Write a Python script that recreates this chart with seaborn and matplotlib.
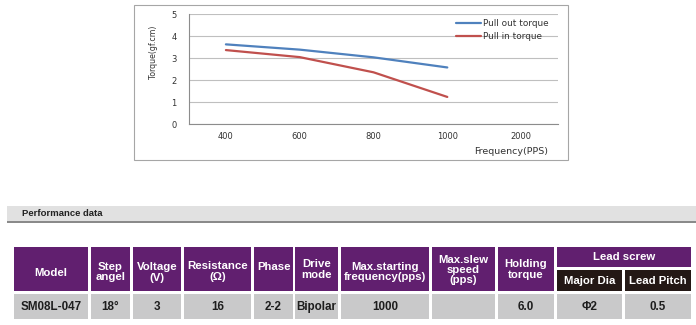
import matplotlib
matplotlib.use("Agg")
import matplotlib.pyplot as plt
from matplotlib.patches import Rectangle
import seaborn as sns
import pandas as pd

# ---------------- data ----------------
freq_labels = ["400", "600", "800", "1000", "2000"]
pull_out = [3.62, 3.38, 3.03, 2.57]
pull_in = [3.36, 3.04, 2.35, 1.23]
series_names = ["Pull out torque", "Pull in torque"]
y_ticks = [0, 1, 2, 3, 4, 5]

header_labels = ["Model", "Step\nangel", "Voltage\n(V)", "Resistance\n(Ω)", "Phase",
                 "Drive\nmode", "Max.starting\nfrequency(pps)", "Max.slew\nspeed\n(pps)",
                 "Holding\ntorque"]
group_label = "Lead screw"
sub_labels = ["Major Dia", "Lead Pitch"]
row_values = ["SM08L-047", "18°", "3", "16", "2-2", "Bipolar", "1000", "", "6.0", "Φ2", "0.5"]
section_title = "Performance data"

# ---------------- style ----------------
sns.set_style("white")
plt.rcParams["font.family"] = ["DejaVu Sans"]

W, H = 696, 325
fig = plt.figure(figsize=(W / 100, H / 100), dpi=100)
fig.patch.set_facecolor("white")

# background canvas axes in pixel coordinates (for table / frames)
bg = fig.add_axes([0, 0, 1, 1], zorder=0)
bg.set_xlim(0, W)
bg.set_ylim(H, 0)
bg.axis("off")

# chart frame
bg.add_patch(Rectangle((134, 5), 434, 155, fill=False, edgecolor="#A6A6A6", lw=0.8))

# ---------------- chart ----------------
ax = fig.add_axes([189 / W, 1 - 124 / H, (558 - 189) / W, 110 / H], zorder=2)
ax.patch.set_alpha(0)

rows = []
for name, vals in zip(series_names, [pull_out, pull_in]):
    for i, v in enumerate(vals):
        rows.append({"pos": i, "freq": freq_labels[i], "torque": v, "series": name})
df = pd.DataFrame(rows)

palette = {"Pull out torque": "#4F81BD", "Pull in torque": "#C0504D"}
sns.lineplot(data=df, x="pos", y="torque", hue="series", palette=palette,
             linewidth=1.6, ax=ax, legend=True, sort=False)

handles, labels = ax.get_legend_handles_labels()
if ax.get_legend() is not None:
    ax.get_legend().remove()

ax.set_xlim(-0.5, len(freq_labels) - 0.5)
ax.set_ylim(0, 5)
ax.set_xticks(range(len(freq_labels)))
ax.set_xticklabels(freq_labels)
ax.set_xticks([i - 0.5 for i in range(len(freq_labels) + 1)], minor=True)
ax.set_yticks(y_ticks)
ax.tick_params(axis="x", which="major", length=0, pad=6, labelsize=6, labelcolor="#333333")
ax.tick_params(axis="x", which="minor", length=3, width=0.6, color="#888888", direction="out")
ax.tick_params(axis="y", which="major", length=3, width=0.6, color="#888888", direction="out",
               pad=6, labelsize=6, labelcolor="#333333")
ax.yaxis.grid(True, color="#BFBFBF", lw=0.8)
ax.xaxis.grid(False)
for s in ["top", "right"]:
    ax.spines[s].set_visible(False)
for s in ["left", "bottom"]:
    ax.spines[s].set_color("#8C8C8C")
    ax.spines[s].set_linewidth(0.8)
ax.set_xlabel("")
ax.set_ylabel("")

fig.text(154 / W, 1 - 52 / H, "Torque(gf.cm)", rotation=90, ha="center", va="center",
         fontsize=5.6, color="#333333")
fig.text(511 / W, 1 - 152 / H, "Frequency(PPS)", ha="center", va="center",
         fontsize=6.8, color="#333333")

fig.legend(handles, labels, loc="upper left", bbox_to_anchor=(456 / W, 1 - 19 / H),
           frameon=False, fontsize=6.4, handlelength=2.8, handletextpad=0.25,
           labelspacing=0.45, borderpad=0, borderaxespad=0, labelcolor="#333333")

# ---------------- performance band ----------------
bg.add_patch(Rectangle((7, 206), W - 7, 15, color="#E1E1E1", lw=0))
bg.add_patch(Rectangle((7, 221), W - 7, 2, color="#8A8A8A", lw=0))
bg.text(22, 214, section_title, ha="left", va="center", fontsize=6.8, fontweight="bold",
        family="Liberation Sans", color="#222222")

# ---------------- table ----------------
purple = "#611F6F"
dark = "#231815"
grey = "#C9C9CA"
col_edges = [(14, 88), (91, 130), (133, 181), (184, 251), (254, 293), (295, 338),
             (341, 429), (432, 495), (498, 554), (557, 622), (625, 691)]
head_top, head_bot = 247, 291
sub_top = 270
row_top, row_bot = 294, 319
head_y = [273, 272, 272.5, 271.5, 267, 269.5, 272, 270, 269.5]

tkw = dict(family="Liberation Sans", fontweight="bold", ha="center", va="center",
           linespacing=1.05)

for (x0, x1), lab, yc in zip(col_edges[:len(header_labels)], header_labels, head_y):
    bg.add_patch(Rectangle((x0, head_top), x1 - x0, head_bot - head_top, color=purple, lw=0))
    bg.text((x0 + x1) / 2, yc, lab, color="white", fontsize=8.2, **tkw)

gx0, gx1 = col_edges[len(header_labels)][0], col_edges[-1][1]
bg.add_patch(Rectangle((gx0, head_top), gx1 - gx0, 267 - head_top, color=purple, lw=0))
bg.text((gx0 + gx1) / 2, 257.5, group_label, color="white", fontsize=8.2, **tkw)
for (x0, x1), lab in zip(col_edges[len(header_labels):], sub_labels):
    bg.add_patch(Rectangle((x0, sub_top), x1 - x0, head_bot - sub_top, color=dark, lw=0))
    bg.text((x0 + x1) / 2, 280.5, lab, color="white", fontsize=8.2, **tkw)

for (x0, x1), val in zip(col_edges, row_values):
    bg.add_patch(Rectangle((x0, row_top), x1 - x0, row_bot - row_top, color=grey, lw=0))
    bg.text((x0 + x1) / 2, 307, val, color="#1E1E1E", fontsize=8.4, **tkw)

fig.savefig("out.png", dpi=100, facecolor="white")
